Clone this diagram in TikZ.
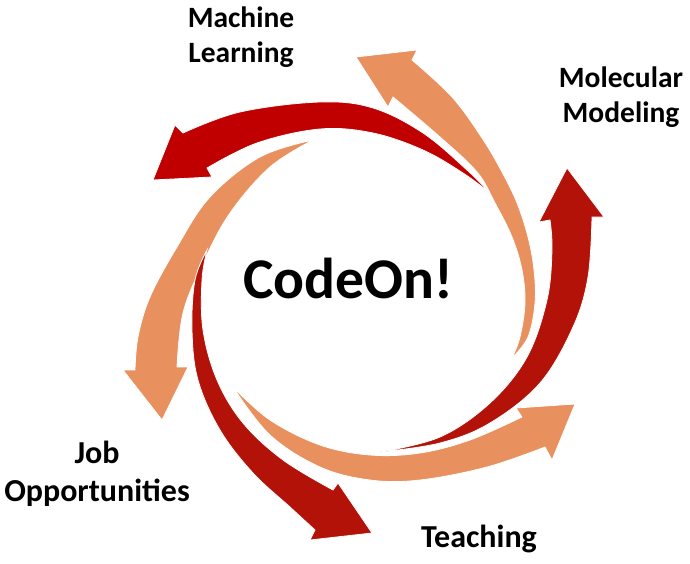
\documentclass[tikz,border=0pt]{standalone}
\usepackage{fontspec}
\setmainfont{Carlito}
\definecolor{redA}{HTML}{C00000}
\definecolor{redB}{HTML}{B31209}
\definecolor{salmon}{HTML}{E9905F}
\tikzset{
  arrowshape/.style={draw=white, line width=0.8pt, line join=miter},
  lbl/.style={font=\fontsize{29.5}{35}\selectfont\bfseries, align=center, inner sep=0pt, anchor=base},
  lblbig/.style={font=\fontsize{32}{38}\selectfont\bfseries, align=center, inner sep=0pt, anchor=base},
}
\begin{document}
\begin{tikzpicture}[x=1pt, y=-1pt]
\useasboundingbox (0,0) rectangle (690,564);
% salmon F (left, pointing down)
\fill[salmon, arrowshape] plot[smooth, tension=0.6] coordinates {(313,140) (260,157) (210,197) (177,247) (150,297) (138,337) (135,370)}
  -- (123,370) -- (162,420) -- (188,367) -- (177,367)
  -- plot[smooth, tension=0.6] coordinates {(177,367) (183,313) (203,263) (230,213) (270,167) (313,140)} -- cycle;
% salmon D (bottom, pointing right)
\fill[salmon, arrowshape] plot[smooth, tension=0.6] coordinates {(233,387) (270,420) (320,445) (370,455) (420,453) (470,440) (522,417)}
  -- (516,408) -- (575,404) -- (552,460) -- (545,447)
  -- plot[smooth, tension=0.6] coordinates {(545,447) (487,467) (420,480) (370,480) (320,467) (270,435) (233,387)} -- cycle;
% salmon B (right, pointing up-left)
\fill[salmon, arrowshape] plot[smooth, tension=0.6] coordinates {(512,358) (528,337) (535,303) (534,270) (528,237) (517,203) (502,172) (482,138) (452,97) (412,60)}
  -- (417,50) -- (356,57) -- (388,107) -- (393,97)
  -- plot[smooth, tension=0.6] coordinates {(393,97) (440,137) (477,172) (495,203) (512,237) (522,270) (525,303) (520,337) (512,358)} -- cycle;
% red A (top, pointing left)
\fill[redA, arrowshape] plot[smooth, tension=0.6] coordinates {(490,193) (467,170) (423,133) (373,108) (320,102) (240,112) (183,133)}
  -- (175,125) -- (153,180) -- (212,177) -- (207,168)
  -- plot[smooth, tension=0.6] coordinates {(207,168) (257,143) (320,129) (373,133) (423,150) (463,173) (490,193)} -- cycle;
% red C (right, pointing up)
\fill[redB, arrowshape] plot[smooth, tension=0.6] coordinates {(380,452) (440,437) (490,403) (527,357) (547,300) (552,250) (550,220)}
  -- (539,222) -- (567,168) -- (604,217) -- (592,217)
  -- plot[smooth, tension=0.6] coordinates {(592,217) (588,277) (573,327) (540,383) (490,423) (440,443) (380,452)} -- cycle;
% red E (left-bottom, pointing down-right)
\fill[redB, arrowshape] plot[smooth, tension=0.6] coordinates {(207,250) (202,280) (203,330) (217,380) (243,423) (283,460) (333,490)}
  -- (338,483) -- (372,533) -- (310,540) -- (315,530)
  -- plot[smooth, tension=0.6] coordinates {(315,530) (290,507) (253,473) (220,430) (198,380) (192,330) (195,280) (207,250)} -- cycle;
% labels
\node[lbl] (ml) at (241,63) {Machine\\Learning};
\node[lbl] (mm) at (621,123) {Molecular\\Modeling};
\node[lblbig] (job) at (97,501) {Job\\Opportunities};
\node[lblbig] (teach) at (479,547) {Teaching};
\node[font=\fontsize{57.6}{70}\selectfont\bfseries, inner sep=0pt, anchor=base] (code) at (348.5,298) {CodeOn!};
\end{tikzpicture}
\end{document}
